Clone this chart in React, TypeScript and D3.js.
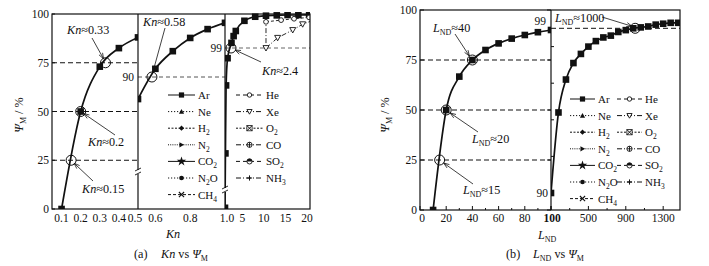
import React from 'react';
import * as d3 from 'd3';

// ---------- data (a): Kn vs Psi ----------
const knSeg1 = [0.1, 0.2, 0.3, 0.4, 0.5];
const psiSeg1 = [0, 50, 73, 82.5, 88];
const knSeg2 = [0.5, 0.6, 0.7, 0.8, 0.9, 1.0];
const psiSeg2 = [86.5, 91.3, 94.1, 96.2, 97.6, 98.6];
const knSeg3 = [1.0, 1.1, 1.25, 1.6, 2.5, 3.0, 3.5, 5.5, 8, 10.5, 13, 15.5, 18, 20.5];
const psiSeg3 = [94.3, 95.9, 97.9, 98.7, 99.15, 99.35, 99.5, 99.8, 99.92, 99.95, 99.96, 99.97, 99.97, 99.98];
const knHe = [10.5, 14, 17, 20.5];
const psiHe = [99.77, 99.82, 99.86, 99.9];
const knXe = [10.5, 10.5, 13.2, 16.7, 19, 20.7];
const psiXe = [99.88, 99.0, 99.3, 99.53, 99.7, 99.78];
const knCirc1 = [0.15, 0.2, 0.33];
const psiCirc1 = [25, 50, 75];
const knCirc2 = [0.58];
const psiCirc2 = [90];
const knCirc3 = [2.4];
const psiCirc3 = [99];
const kxTicks1 = [0.1, 0.2, 0.3, 0.4, 0.5];
const kxTicks2 = [0.6, 0.8, 1.0];
const kxTicks3 = [5, 10, 15, 20];
const yTicks = [0, 25, 50, 75, 100];

// ---------- data (b): L_ND vs Psi ----------
const lSeg1 = [10, 20, 30, 40, 50, 60, 70, 80, 90, 100];
const lPsi1 = [0, 50, 66.7, 75, 80, 83.3, 85.7, 87.5, 88.9, 90];
const lSeg2 = [100, 180, 260, 340, 420, 500, 580, 660, 740, 820, 900, 980, 1060, 1140, 1220, 1300, 1380, 1460];
const lPsi2 = [90, 94.4, 96.2, 97.1, 97.6, 98.0, 98.3, 98.5, 98.6, 98.8, 98.9, 99.0, 99.05, 99.1, 99.2, 99.25, 99.3, 99.3];
const lCirc1 = [15, 20, 40];
const lCircPsi1 = [25, 50, 75];
const lCirc2 = [1000];
const lCircPsi2 = [99];
const lxTicks1 = [0, 20, 40, 60, 80];
const lxTicks2 = [100, 500, 900, 1300];

const legendCol1 = [
  { name: 'Ar', sub: '', dash: '', mark: 'square' },
  { name: 'Ne', sub: '', dash: '1.2,1.8', mark: 'triUp' },
  { name: 'H', sub: '2', dash: '2,1.5', mark: 'diamond' },
  { name: 'N', sub: '2', dash: '1,1.2', mark: 'triRight' },
  { name: 'CO', sub: '2', dash: '', mark: 'star' },
  { name: 'N', sub: '2', tail: 'O', dash: '1.2,1.8', mark: 'circleF' },
  { name: 'CH', sub: '4', dash: '3,2', mark: 'x' },
];
const legendCol2 = [
  { name: 'He', sub: '', dash: '4,3', mark: 'circleO' },
  { name: 'Xe', sub: '', dash: '5,2,1,2', mark: 'triDownO' },
  { name: 'O', sub: '2', dash: '2,1.5', mark: 'sqX' },
  { name: 'CO', sub: '', dash: '5,2,1,2', mark: 'circlePlus' },
  { name: 'SO', sub: '2', dash: '4,3', mark: 'halfCircle' },
  { name: 'NH', sub: '3', dash: '5,2,1,2', mark: 'plus' },
];

const FONT = 'Liberation Serif, Times New Roman, Times, serif';
const INK = '#111';
const FS = 11.5;
const FA = 12.2;

function Mark({ type, x, y, s = 3 }: { type: string; x: number; y: number; s?: number }) {
  switch (type) {
    case 'square':
      return <rect x={x - s} y={y - s} width={2 * s} height={2 * s} fill={INK} />;
    case 'triUp':
      return <path d={`M${x},${y - s}L${x + s},${y + s * 0.8}L${x - s},${y + s * 0.8}Z`} fill={INK} />;
    case 'diamond':
      return <path d={`M${x},${y - s}L${x + s},${y}L${x},${y + s}L${x - s},${y}Z`} fill={INK} />;
    case 'triRight':
      return <path d={`M${x + s},${y}L${x - s * 0.8},${y - s}L${x - s * 0.8},${y + s}Z`} fill={INK} />;
    case 'star': {
      const p = d3.symbol(d3.symbolStar, 28)();
      return <path d={p || ''} transform={`translate(${x},${y})`} fill={INK} />;
    }
    case 'circleF':
      return <circle cx={x} cy={y} r={s * 0.9} fill={INK} />;
    case 'x':
      return (
        <path d={`M${x - s},${y - s}L${x + s},${y + s}M${x - s},${y + s}L${x + s},${y - s}`} stroke={INK} strokeWidth={1.1} />
      );
    case 'circleO':
      return <circle cx={x} cy={y} r={s * 0.85} fill="#fff" stroke={INK} strokeWidth={0.9} />;
    case 'triDownO':
      return (
        <path d={`M${x - s},${y - s * 0.8}L${x + s},${y - s * 0.8}L${x},${y + s}Z`} fill="#fff" stroke={INK} strokeWidth={0.9} />
      );
    case 'sqX':
      return (
        <g>
          <rect x={x - s} y={y - s} width={2 * s} height={2 * s} fill="#fff" stroke={INK} strokeWidth={0.8} />
          <path d={`M${x - s},${y - s}L${x + s},${y + s}M${x - s},${y + s}L${x + s},${y - s}`} stroke={INK} strokeWidth={1} />
        </g>
      );
    case 'circlePlus':
      return (
        <g>
          <circle cx={x} cy={y} r={s} fill="#fff" stroke={INK} strokeWidth={0.9} />
          <path d={`M${x - s},${y}L${x + s},${y}M${x},${y - s}L${x},${y + s}`} stroke={INK} strokeWidth={0.9} />
        </g>
      );
    case 'halfCircle':
      return (
        <g>
          <circle cx={x} cy={y} r={s} fill="#fff" stroke={INK} strokeWidth={0.9} />
          <path d={`M${x - s},${y}A${s},${s} 0 0 1 ${x + s},${y}Z`} fill={INK} />
        </g>
      );
    case 'plus':
      return <path d={`M${x - s},${y}L${x + s},${y}M${x},${y - s}L${x},${y + s}`} stroke={INK} strokeWidth={1} />;
    default:
      return null;
  }
}

function Legend({ x1, x2, y0, dy, len }: { x1: number; x2: number; y0: number; dy: number; len: number }) {
  const cols = [
    { items: legendCol1, x: x1 },
    { items: legendCol2, x: x2 },
  ];
  return (
    <g>
      {cols.map((c, ci) =>
        c.items.map((it, i) => {
          const y = y0 + i * dy;
          return (
            <g key={`${ci}-${i}`}>
              <line x1={c.x} x2={c.x + len} y1={y} y2={y} stroke={INK} strokeWidth={1} strokeDasharray={it.dash || undefined} />
              <Mark type={it.mark} x={c.x + len / 2} y={y} s={2.6} />
              <text x={c.x + len + 3} y={y + 4} fontSize={11} fontFamily={FONT} fill={INK}>
                {it.name}
                {it.sub ? (
                  <tspan fontSize={7.5} dy={3}>
                    {it.sub}
                  </tspan>
                ) : null}
                {it.tail ? <tspan dy={-3}>{it.tail}</tspan> : null}
              </text>
            </g>
          );
        })
      )}
    </g>
  );
}

function Arrow({ x1, y1, x2, y2 }: { x1: number; y1: number; x2: number; y2: number }) {
  const a = Math.atan2(y2 - y1, x2 - x1);
  const L = 6;
  const w = 0.35;
  const p1 = [x2 - L * Math.cos(a - w), y2 - L * Math.sin(a - w)];
  const p2 = [x2 - L * Math.cos(a + w), y2 - L * Math.sin(a + w)];
  return (
    <g stroke={INK} strokeWidth={0.8} fill="none">
      <line x1={x1} y1={y1} x2={x2} y2={y2} />
      <path d={`M${p1[0]},${p1[1]}L${x2},${y2}L${p2[0]},${p2[1]}`} />
    </g>
  );
}

function BreakMark({ x, y }: { x: number; y: number }) {
  return (
    <g>
      <rect x={x - 3} y={y - 2} width={6} height={4} fill="#fff" />
      <path d={`M${x - 3},${y - 1}L${x + 3},${y - 4}M${x - 3},${y + 3}L${x + 3},${y}`} stroke={INK} strokeWidth={0.9} />
    </g>
  );
}

const zip = (a: number[], b: number[]) => a.map((v, i) => [v, b[i]] as [number, number]);

export default function App() {
  const ax1 = d3.scaleLinear().domain([0.05, 0.5]).range([52, 138]);
  const ax2 = d3.scaleLinear().domain([0.5, 1.0]).range([138, 225]);
  const ax3 = d3.scaleLinear().domain([1.0, 20.7]).range([225, 310]);
  const ay1 = d3.scaleLinear().domain([0, 100]).range([209, 14]);
  const ay2 = d3.scaleLinear().domain([90, 100]).range([77, 14]);
  const ay3 = d3.scaleLinear().domain([99, 100]).range([48, 14]);
  const bx1 = d3.scaleLinear().domain([0, 100]).range([420, 551]);
  const bx2 = d3.scaleLinear().domain([100, 1480]).range([551, 680]);
  const by1 = d3.scaleLinear().domain([0, 100]).range([210, 10]);
  const by2 = d3.scaleLinear().domain([90, 100]).range([193, 10]);

  const mkLine = (xs: d3.ScaleLinear<number, number>, ys: d3.ScaleLinear<number, number>, curve: any = d3.curveMonotoneX) =>
    d3
      .line<[number, number]>()
      .x((d) => xs(d[0]))
      .y((d) => ys(d[1]))
      .curve(curve);

  const txt = { fontFamily: FONT, fontSize: FS, fill: INK } as const;
  const atxt = { fontFamily: FONT, fontSize: FA, fill: INK } as const;

  const seriesPath = (xs: any, ys: any, xv: number[], yv: number[], curve: any = d3.curveMonotoneX) =>
    mkLine(xs, ys, curve)(zip(xv, yv)) || '';

  return (
    <svg width={709} height={266} style={{ position: 'absolute', left: 0, top: 0, background: '#fff' }}>
      <defs>
        <clipPath id="ca1"><rect x={52} y={14} width={86} height={195} /></clipPath>
        <clipPath id="ca2"><rect x={138} y={14} width={87} height={195} /></clipPath>
        <clipPath id="ca3"><rect x={225} y={12} width={85} height={197} /></clipPath>
        <clipPath id="cb1"><rect x={420} y={10} width={131} height={200} /></clipPath>
        <clipPath id="cb2"><rect x={551} y={8} width={129} height={202} /></clipPath>
      </defs>
      <rect x={0} y={0} width={709} height={266} fill="#fff" />

      {/* ===================== Panel (a) ===================== */}
      {[25, 50, 75].map((v) => (
        <line key={v} x1={52} x2={138} y1={ay1(v)} y2={ay1(v)} stroke={INK} strokeWidth={1} strokeDasharray="5,3" />
      ))}
      <line x1={138} x2={225} y1={ay2(90)} y2={ay2(90)} stroke="#555" strokeWidth={1} strokeDasharray="4,3" />
      <line x1={225} x2={310} y1={ay3(99)} y2={ay3(99)} stroke="#666" strokeWidth={1} strokeDasharray="4,3" />

      <g clipPath="url(#ca1)">
        <path d={seriesPath(ax1, ay1, knSeg1, psiSeg1)} fill="none" stroke={INK} strokeWidth={1.7} />
        {knSeg1.map((k, i) => <Mark key={i} type="square" x={ax1(k)} y={ay1(psiSeg1[i])} s={3.3} />)}
      </g>
      <g clipPath="url(#ca2)">
        <path d={seriesPath(ax2, ay2, knSeg2, psiSeg2)} fill="none" stroke={INK} strokeWidth={1.7} />
        {knSeg2.map((k, i) => <Mark key={i} type="square" x={ax2(k)} y={ay2(psiSeg2[i])} s={3.3} />)}
      </g>
      <g clipPath="url(#ca3)">
        <path d={seriesPath(ax3, ay3, knXe, psiXe, d3.curveLinear)} fill="none" stroke={INK} strokeWidth={0.9} strokeDasharray="5,2,1,2" />
        <path d={seriesPath(ax3, ay3, knHe, psiHe)} fill="none" stroke={INK} strokeWidth={0.9} strokeDasharray="3,2" />
        <path d={seriesPath(ax3, ay3, knSeg3, psiSeg3)} fill="none" stroke={INK} strokeWidth={1.7} />
        {knSeg3.map((k, i) => <Mark key={i} type="square" x={ax3(k)} y={ay3(psiSeg3[i])} s={3.3} />)}
        {knHe.map((k, i) => <Mark key={i} type="circleO" x={ax3(k)} y={ay3(psiHe[i])} s={2.8} />)}
        {knXe.slice(1, 5).map((k, i) => <Mark key={i} type="triDownO" x={ax3(k)} y={ay3(psiXe[i + 1])} s={3} />)}
      </g>
      {knCirc1.map((k, i) => (
        <circle key={i} cx={ax1(k)} cy={ay1(psiCirc1[i])} r={5} fill="none" stroke={INK} strokeWidth={1} />
      ))}
      {knCirc2.map((k, i) => (
        <circle key={i} cx={ax2(k)} cy={ay2(psiCirc2[i])} r={5} fill="none" stroke={INK} strokeWidth={1} />
      ))}
      {knCirc3.map((k, i) => (
        <circle key={i} cx={ax3(k)} cy={ay3(psiCirc3[i])} r={5} fill="none" stroke={INK} strokeWidth={1} />
      ))}

      <rect x={52} y={14} width={258} height={195} fill="none" stroke={INK} strokeWidth={1.2} />
      <line x1={138} x2={138} y1={14} y2={209} stroke={INK} strokeWidth={1.2} />
      <line x1={225} x2={225} y1={14} y2={209} stroke={INK} strokeWidth={1.2} />
      <BreakMark x={138} y={172} />
      <BreakMark x={225} y={190} />

      {yTicks.map((v) => (
        <g key={v}>
          <line x1={52} x2={55} y1={ay1(v)} y2={ay1(v)} stroke={INK} />
          <text x={49} y={ay1(v) + 4} textAnchor="end" {...txt}>{v}</text>
        </g>
      ))}
      <text x={134} y={ay2(90) + 4} textAnchor="end" {...txt}>90</text>
      <text x={222} y={ay3(99) + 4} textAnchor="end" {...txt}>99</text>

      {kxTicks1.map((v) => (
        <text key={v} x={ax1(v) - (v === 0.5 ? 3 : 0)} y={222} textAnchor="middle" {...txt}>{v.toFixed(1)}</text>
      ))}
      {kxTicks2.map((v) => (
        <text key={v} x={ax2(v) + (v === 1.0 ? 2 : 0)} y={222} textAnchor="middle" {...txt}>{v.toFixed(1)}</text>
      ))}
      {kxTicks3.map((v) => (
        <text key={v} x={ax3(v)} y={222} textAnchor="middle" {...txt}>{v}</text>
      ))}

      <text x={173} y={238} textAnchor="middle" {...atxt} fontStyle="italic">Kn</text>
      <text transform="translate(23,115) rotate(-90)" textAnchor="middle" {...atxt}>
        <tspan fontStyle="italic">Ψ</tspan>
        <tspan fontSize={8} dy={3}>M</tspan>
        <tspan dy={-3}> / %</tspan>
      </text>
      <text x={134} y={258} {...atxt}>(a)</text>
      <text x={161} y={258} {...atxt}>
        <tspan fontStyle="italic">Kn</tspan> vs <tspan fontStyle="italic">Ψ</tspan>
        <tspan fontSize={8} dy={3}>M</tspan>
      </text>

      <text x={67} y={34} {...atxt}><tspan fontStyle="italic">Kn</tspan>≈0.33</text>
      <Arrow x1={92} y1={38} x2={ax1(0.33) - 2} y2={ay1(75) - 4} />
      <text x={88} y={146} {...atxt}><tspan fontStyle="italic">Kn</tspan>≈0.2</text>
      <Arrow x1={115} y1={135} x2={ax1(0.2) + 3} y2={ay1(50) + 2} />
      <text x={82} y={193} {...atxt}><tspan fontStyle="italic">Kn</tspan>≈0.15</text>
      <Arrow x1={93} y1={181} x2={ax1(0.15) + 3} y2={ay1(25) + 3} />
      <text x={143} y={26} {...atxt}><tspan fontStyle="italic">Kn</tspan>≈0.58</text>
      <Arrow x1={165} y1={28} x2={ax2(0.58) + 1} y2={ay2(90) - 5} />
      <text x={262} y={75} {...atxt}><tspan fontStyle="italic">Kn</tspan>≈2.4</text>
      <Arrow x1={261} y1={62} x2={ax3(2.4) + 4} y2={ay3(99) + 2} />

      <Legend x1={168} x2={236} y0={95} dy={16.6} len={27} />

      {/* ===================== Panel (b) ===================== */}
      {[25, 50, 75].map((v) => (
        <line key={v} x1={420} x2={551} y1={by1(v)} y2={by1(v)} stroke={INK} strokeWidth={1} strokeDasharray="5,3" />
      ))}
      <line x1={551} x2={680} y1={by2(99)} y2={by2(99)} stroke={INK} strokeWidth={1} strokeDasharray="5,3" />

      <g clipPath="url(#cb1)">
        <path d={seriesPath(bx1, by1, lSeg1, lPsi1)} fill="none" stroke={INK} strokeWidth={1.7} />
        {lSeg1.map((l, i) => <Mark key={i} type="square" x={bx1(l)} y={by1(lPsi1[i])} s={3.3} />)}
      </g>
      <g clipPath="url(#cb2)">
        <path d={seriesPath(bx2, by2, lSeg2, lPsi2)} fill="none" stroke={INK} strokeWidth={1.7} />
        {lSeg2.map((l, i) => <Mark key={i} type="square" x={bx2(l)} y={by2(lPsi2[i])} s={3.3} />)}
      </g>
      {lCirc1.map((l, i) => (
        <circle key={i} cx={bx1(l)} cy={by1(lCircPsi1[i])} r={5} fill="none" stroke={INK} strokeWidth={1} />
      ))}
      {lCirc2.map((l, i) => (
        <circle key={i} cx={bx2(l)} cy={by2(lCircPsi2[i])} r={5} fill="none" stroke={INK} strokeWidth={1} />
      ))}

      <rect x={420} y={10} width={260} height={200} fill="none" stroke={INK} strokeWidth={1.2} />
      <line x1={551} x2={551} y1={10} y2={210} stroke={INK} strokeWidth={1.2} />

      {yTicks.map((v) => (
        <g key={v}>
          <line x1={420} x2={424} y1={by1(v)} y2={by1(v)} stroke={INK} />
          <line x1={551} x2={547} y1={by1(v)} y2={by1(v)} stroke={INK} />
          <text x={417} y={by1(v) + 4} textAnchor="end" {...txt}>{v}</text>
        </g>
      ))}
      {[92, 94, 96, 98].map((v) => (
        <line key={v} x1={551} x2={554} y1={by2(v)} y2={by2(v)} stroke={INK} />
      ))}
      {d3.range(0, 101, 10).map((v) => (
        <line key={v} x1={bx1(v)} x2={bx1(v)} y1={210} y2={v % 20 === 0 ? 206 : 208} stroke={INK} />
      ))}
      {d3.range(100, 1480, 200).map((v) => (
        <line key={v} x1={bx2(v)} x2={bx2(v)} y1={210} y2={(v - 100) % 400 === 0 ? 206 : 208} stroke={INK} />
      ))}
      <text x={546} y={by2(99) - 3} textAnchor="end" {...txt}>99</text>
      <text x={548} y={by2(90) + 4} textAnchor="end" {...txt}>90</text>

      {lxTicks1.map((v) => (
        <text key={v} x={bx1(v) + (v === 0 ? 2 : 0)} y={222} textAnchor="middle" {...txt}>{v}</text>
      ))}
      {lxTicks2.map((v) => (
        <text key={v} x={bx2(v) + (v === 100 ? 1 : 0)} y={222} textAnchor="middle" {...txt} fontWeight={v === 100 ? 'bold' : 'normal'}>{v}</text>
      ))}

      <text x={538} y={239} {...atxt}>
        <tspan fontStyle="italic">L</tspan>
        <tspan fontSize={8} dy={3}>ND</tspan>
      </text>
      <text transform="translate(389,115) rotate(-90)" textAnchor="middle" {...atxt}>
        <tspan fontStyle="italic">Ψ</tspan>
        <tspan fontSize={8} dy={3}>M</tspan>
        <tspan dy={-3}> / %</tspan>
      </text>
      <text x={506} y={258} {...atxt}>(b)</text>
      <text x={533} y={258} {...atxt}>
        <tspan fontStyle="italic">L</tspan>
        <tspan fontSize={8} dy={3}>ND</tspan>
        <tspan dy={-3}> vs </tspan>
        <tspan fontStyle="italic">Ψ</tspan>
        <tspan fontSize={8} dy={3}>M</tspan>
      </text>

      <text x={433} y={32} {...atxt}>
        <tspan fontStyle="italic">L</tspan><tspan fontSize={8} dy={3}>ND</tspan><tspan dy={-3}>≈40</tspan>
      </text>
      <Arrow x1={455} y1={34} x2={bx1(40) - 3} y2={by1(75) - 4} />
      <text x={472} y={143} {...atxt}>
        <tspan fontStyle="italic">L</tspan><tspan fontSize={8} dy={3}>ND</tspan><tspan dy={-3}>≈20</tspan>
      </text>
      <Arrow x1={478} y1={132} x2={bx1(20) + 4} y2={by1(50) + 3} />
      <text x={463} y={194} {...atxt}>
        <tspan fontStyle="italic">L</tspan><tspan fontSize={8} dy={3}>ND</tspan><tspan dy={-3}>≈15</tspan>
      </text>
      <Arrow x1={473} y1={184} x2={bx1(15) + 4} y2={by1(25) + 3} />
      <text x={555} y={22} {...atxt}>
        <tspan fontStyle="italic">L</tspan><tspan fontSize={8} dy={3}>ND</tspan><tspan dy={-3}>≈1000</tspan>
      </text>
      <Arrow x1={602} y1={17} x2={bx2(1000) - 3} y2={by2(99) - 2} />

      <Legend x1={570} x2={617} y0={99} dy={16.6} len={25} />
    </svg>
  );
}
